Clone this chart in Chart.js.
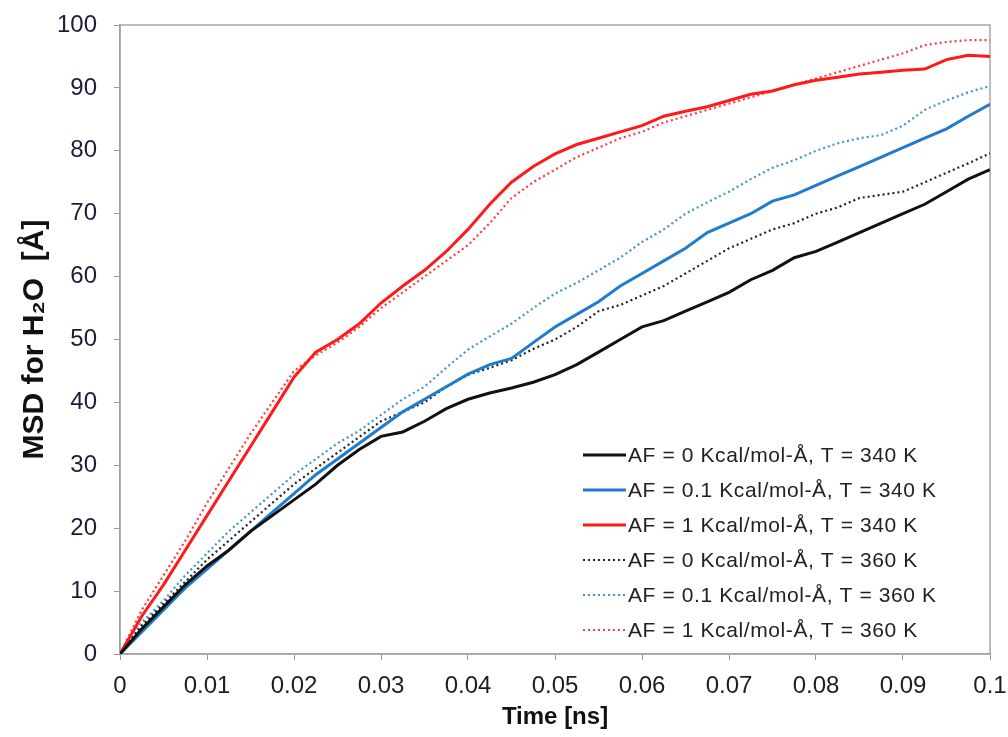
<!DOCTYPE html>
<html>
<head>
<meta charset="utf-8">
<script src="https://cdn.jsdelivr.net/npm/chart.js@4.4.1/dist/chart.umd.min.js"></script>
<style>
  html, body { margin: 0; padding: 0; background: #fff; }
  #wrap { width: 1008px; height: 737px; }
</style>
</head>
<body>
<div id="wrap"><canvas id="msdChart" width="1008" height="737"></canvas></div>
<script>
// time axis (ns), one sample every 0.0025 ns
const timeNs = [0, 0.0025, 0.005, 0.0075, 0.01, 0.0125, 0.015, 0.0175, 0.02, 0.0225,
  0.025, 0.0275, 0.03, 0.0325, 0.035, 0.0375, 0.04, 0.0425, 0.045, 0.0475,
  0.05, 0.0525, 0.055, 0.0575, 0.06, 0.0625, 0.065, 0.0675, 0.07, 0.0725,
  0.075, 0.0775, 0.08, 0.0825, 0.085, 0.0875, 0.09, 0.0925, 0.095, 0.0975, 0.1];

// MSD values
const af0_340 = [0, 4, 7.5, 11, 14, 16.5, 19.5, 22, 24.5, 27,
  30, 32.5, 34.6, 35.3, 37, 39, 40.5, 41.5, 42.3, 43.2,
  44.4, 46, 48, 50, 52, 53, 54.5, 56, 57.5, 59.5,
  61, 63, 64, 65.5, 67, 68.5, 70, 71.5, 73.5, 75.5, 77];
const af01_340 = [0, 3.5, 7, 10.5, 13.5, 16.5, 19.5, 22.5, 25.5, 28.5,
  31, 33.5, 36, 38.5, 40.5, 42.5, 44.5, 46, 47, 49.5,
  52, 54, 56, 58.5, 60.5, 62.5, 64.5, 67, 68.5, 70,
  72, 73, 74.5, 76, 77.5, 79, 80.5, 82, 83.5, 85.5, 87.4];
const af1_340 = [0, 6, 11, 16.5, 22, 27.5, 33, 38.5, 44, 48,
  50, 52.5, 55.8, 58.5, 61, 64, 67.5, 71.5, 75, 77.5,
  79.5, 81, 82, 83, 84, 85.5, 86.3, 87, 88, 89,
  89.5, 90.5, 91.2, 91.7, 92.2, 92.5, 92.8, 93, 94.5, 95.2, 95];
const af0_360 = [0, 4.5, 8, 11.5, 15, 18, 21, 24, 27, 29.5,
  32, 34.5, 37, 38.5, 40, 42.5, 44.4, 45.5, 46.7, 48.5,
  50, 52, 54.5, 55.5, 57, 58.5, 60.5, 62.5, 64.5, 66,
  67.5, 68.5, 70, 71, 72.5, 73, 73.5, 75, 76.5, 78, 79.6];
const af01_360 = [0, 5, 8.5, 12.5, 16, 19.5, 22.5, 25.5, 28.5, 31,
  33.5, 35.5, 38, 40.5, 42.5, 45.5, 48.4, 50.5, 52.5, 55,
  57.3, 59, 61, 63, 65.5, 67.5, 70, 71.8, 73.5, 75.5,
  77.3, 78.5, 80, 81.2, 82, 82.5, 84, 86.5, 88, 89.3, 90.3];
const af1_360 = [0, 7, 12.5, 18, 24, 29.5, 35, 40, 45, 47.5,
  49.5, 52, 55, 57.5, 60, 62.5, 65, 68.5, 72.5, 75,
  77, 79, 80.5, 82, 83, 84.5, 85.5, 86.5, 87.5, 88.5,
  89.5, 90.5, 91.5, 92.5, 93.5, 94.5, 95.5, 96.8, 97.3, 97.6, 97.6];

const seriesLabels = [
  'AF = 0 Kcal/mol-Å, T = 340 K',
  'AF = 0.1 Kcal/mol-Å, T = 340 K',
  'AF = 1 Kcal/mol-Å, T = 340 K',
  'AF = 0 Kcal/mol-Å, T = 360 K',
  'AF = 0.1 Kcal/mol-Å, T = 360 K',
  'AF = 1 Kcal/mol-Å, T = 360 K'
];
const seriesValues = [af0_340, af01_340, af1_340, af0_360, af01_360, af1_360];
const seriesColors = ['#111111', '#1f7ccc', '#ff1a1a', '#222222', '#3d93d4', '#ff3b3b'];
const seriesDotted = [false, false, false, true, true, true];

const FONT = '"Liberation Sans", Arial, Helvetica, sans-serif';

const datasets = seriesValues.map((vals, i) => ({
  label: seriesLabels[i],
  data: vals.map((v, k) => ({ x: timeNs[k], y: v })),
  borderColor: seriesColors[i],
  borderWidth: seriesDotted[i] ? 2.2 : 3,
  borderDash: seriesDotted[i] ? [2, 3] : [],
  pointRadius: 0,
  tension: 0,
  fill: false
}));

// grey frame round the plot area
const frame = {
  id: 'frame',
  beforeDatasetsDraw(chart) {
    const a = chart.chartArea;
    const c = chart.ctx;
    c.save();
    c.strokeStyle = '#a8a8a8';
    c.lineWidth = 1.5;
    c.strokeRect(a.left, a.top, a.right - a.left, a.bottom - a.top);
    c.restore();
  }
};

// legend drawn inside the plot, lower right
const innerLegend = {
  id: 'innerLegend',
  afterDraw(chart) {
    const a = chart.chartArea;
    const c = chart.ctx;
    c.save();
    c.font = '21px ' + FONT;
    if ('letterSpacing' in c) c.letterSpacing = '0.6px';
    c.textBaseline = 'middle';
    c.fillStyle = '#222';
    chart.data.datasets.forEach((ds, i) => {
      const y = a.bottom - 199 + i * 35;
      c.beginPath();
      c.strokeStyle = ds.borderColor;
      c.lineWidth = ds.borderDash.length ? 2.2 : 3;
      c.setLineDash(ds.borderDash);
      c.moveTo(583, y);
      c.lineTo(626, y);
      c.stroke();
      c.setLineDash([]);
      c.fillText(ds.label, 628, y + 1);
    });
    c.restore();
  }
};

new Chart(document.getElementById('msdChart'), {
  type: 'line',
  data: { datasets: datasets },
  options: {
    responsive: false,
    animation: false,
    layout: { padding: { left: 0, top: 25, right: 18, bottom: 0 } },
    plugins: { legend: { display: false }, tooltip: { enabled: false } },
    scales: {
      x: {
        type: 'linear',
        min: 0,
        max: 0.1,
        afterFit: (s) => { s.height = 83; s.paddingLeft = 0; s.paddingRight = 0; },
        grid: { drawOnChartArea: false, drawTicks: true, tickLength: 6, color: '#999' },
        border: { display: true, color: '#999', width: 1.5 },
        ticks: {
          stepSize: 0.01,
          color: '#1e1e1e',
          font: { size: 24, family: FONT },
          padding: 12,
          maxRotation: 0,
          callback: (v) => String(Number(v.toFixed(2)))
        },
        title: {
          display: true,
          text: 'Time [ns]',
          color: '#111',
          font: { size: 24, weight: 'bold', family: FONT },
          padding: { top: 0, bottom: 5 }
        }
      },
      y: {
        min: 0,
        max: 100,
        afterFit: (s) => { s.width = 120; s.paddingTop = 0; s.paddingBottom = 0; },
        grid: { drawOnChartArea: false, drawTicks: true, tickLength: 6, color: '#999' },
        border: { display: true, color: '#888', width: 1.5 },
        ticks: {
          stepSize: 10,
          color: '#1c1c38',
          font: { size: 24, family: FONT },
          padding: 17
        },
        title: {
          display: true,
          text: 'MSD for H₂O  [Å]',
          color: '#111',
          font: { size: 30, weight: 'bold', family: FONT },
          padding: { top: 17, bottom: 0 }
        }
      }
    }
  },
  plugins: [frame, innerLegend]
});
</script>
</body>
</html>
